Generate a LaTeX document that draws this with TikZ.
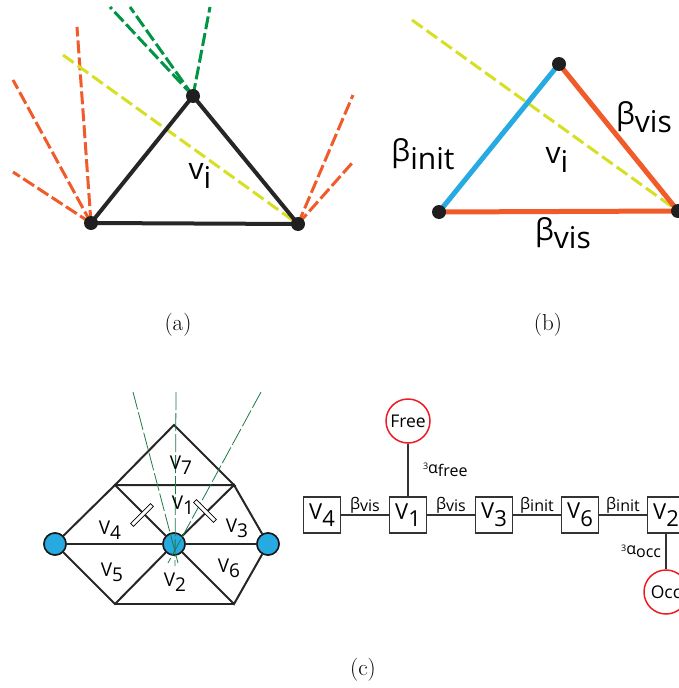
\documentclass[tikz,border=0pt]{standalone}
\usepackage{fontspec}
\newfontfamily\labelfont{Open Sans}
\usepackage{xcolor}
\definecolor{rayorange}{HTML}{F15A29}
\definecolor{raygreen}{HTML}{009444}
\definecolor{rayyellow}{HTML}{D7DF23}
\definecolor{edgeblue}{HTML}{27AAE1}
\definecolor{statered}{HTML}{ED1C24}
\definecolor{sightgreen}{HTML}{1E7A45}
\definecolor{boxgray}{HTML}{333333}
\usepackage{tikz}
\newcommand{\lsub}[3][0.25em]{#2\raisebox{-#1}{#3}}

\begin{document}
\begin{tikzpicture}[
		x=1pt, y=-1pt,
		vdot/.style={
			circle,
			fill=black!88,
			inner sep=0pt,
			minimum size=14pt
		},
		tri/.style={
			line width=4pt,
			draw=black!85,
			line join=round
		},
		bedge/.style={
			line width=5pt,
			line join=round
		},
		orangeray/.style={
			draw=rayorange,
			line width=3pt,
			dash pattern=on 13pt off 4pt
		},
		greenray/.style={
			draw=raygreen,
			line width=3pt,
			dash pattern=on 13pt off 4pt
		},
		yellowray/.style={
			draw=rayyellow,
			line width=3pt,
			dash pattern=on 13pt off 5pt
		},
		biglabel/.style={
			font=\labelfont\fontsize{30}{36}\selectfont,
			inner sep=0pt
		},
		caption/.style={
			font=\fontsize{23}{28}\selectfont,
			inner sep=0pt
		},
		mesh/.style={
			line width=2pt,
			draw=black!85
		},
		meshlabel/.style={
			font=\labelfont\fontsize{19}{23}\selectfont,
			inner sep=0pt
		},
		hub/.style={
			circle,
			draw=black!90,
			line width=1.5pt,
			fill=edgeblue,
			minimum size=22pt,
			inner sep=0pt
		},
		sight/.style={
			draw=sightgreen,
			line width=0.8pt,
			dash pattern=on 18pt off 3pt
		},
		occmark/.style={
			draw=black,
			line width=0.7pt,
			fill=white,
			minimum width=28pt,
			minimum height=4pt,
			inner sep=0pt
		},
		varbox/.style={
			draw=boxgray,
			line width=1.5pt,
			fill=white,
			minimum width=37pt,
			minimum height=36pt,
			inner sep=0pt,
			font=\labelfont\fontsize{22}{26}\selectfont
		},
		state/.style={
			circle,
			draw=statered,
			line width=1.5pt,
			fill=white,
			minimum size=44pt,
			inner sep=0pt,
			font=\labelfont\fontsize{17.5}{20}\selectfont
		},
		link/.style={
			draw=boxgray,
			line width=2pt
		},
		elabel/.style={
			font=\labelfont\fontsize{16}{19}\selectfont,
			inner sep=1pt
		}
	]
	\useasboundingbox (0,0) rectangle (679,688);
	\clip (0,0) rectangle (679,688);
	
	% (a) triangle with its sight rays
	\coordinate (aL) at (91,223);
	\coordinate (aT) at (193,96);
	\coordinate (aR) at (298,224);
	\coordinate (aY) at (63,55);
	\foreach \p in {(13,80),(77,27),(13,172)}
		\draw[orangeray] (aL) -- \p;
	\foreach \p in {(353,95),(353,162)}
		\draw[orangeray] (aR) -- \p;
	\foreach \p in {(110,7),(130,7),(210,7)}
		\draw[greenray] (aT) -- \p;
	\draw[yellowray] (aY) -- (aR);
	\draw[tri] (aL) -- (aT) -- (aR) -- cycle;
	\foreach \v in {aL,aT,aR}
		\node[vdot] at (\v) {};
	\node[biglabel] (avi) at (200,176) {\lsub[0.3em]{v}{i}};
	\node[caption] (capa) at (178,325) {(a)};
	
	% (b) edge weights
	\coordinate (bL) at (439,212);
	\coordinate (bT) at (559,64);
	\coordinate (bR) at (678,211);
	\coordinate (bY) at (412,20);
	\draw[yellowray] (bY) -- (bR);
	\draw[bedge, draw=edgeblue] (bL) -- (bT);
	\draw[bedge, draw=rayorange] (bT) -- (bR) -- (bL);
	\foreach \v in {bL,bT,bR}
		\node[vdot] at (\v) {};
	\node[biglabel] (binit) at (423,154) {\lsub{β}{init}};
	\node[biglabel] (bvi) at (557,160) {\lsub[0.3em]{v}{i}};
	\node[biglabel] (bvisr) at (644,117) {\lsub{β}{vis}};
	\node[biglabel] (bvisb) at (563,233) {\lsub{β}{vis}};
	\node[caption] (capb) at (548,325) {(b)};
	
	% (c) mesh around the centre vertex
	\coordinate (m7) at (174,425);
	\coordinate (mUL) at (115,485);
	\coordinate (mUR) at (234,485);
	\coordinate (mBL) at (115,604);
	\coordinate (mBR) at (234,604);
	\node[hub] (mL) at (55,544) {};
	\node[hub] (mC) at (174,544) {};
	\node[hub] (mR) at (268,544) {};
	\draw[mesh] (mUL) -- (m7) -- (mUR) -- cycle;
	\draw[mesh] (mL) -- (mUL) -- (mC) -- (mUR) -- (mR);
	\draw[mesh] (mL) -- (mBL) -- (mC) -- (mBR) -- (mR);
	\draw[mesh] (mBL) -- (mBR);
	\draw[mesh] (mL) -- (mC) -- (mR);
	\node[hub] at (mL) {};
	\node[hub] at (mC) {};
	\node[hub] at (mR) {};
	% sight lines through the centre vertex
	\coordinate (s1a) at (133,392);
	\coordinate (s1b) at (178,563);
	\coordinate (s2a) at (176,392);
	\coordinate (s2b) at (175,566);
	\coordinate (s3a) at (261,392);
	\coordinate (s3b) at (168,563);
	\foreach \i in {1,2,3}
		\draw[sight] (s\i a) -- (s\i b);
	\node[occmark, rotate=45] (markl) at (142,515) {};
	\node[occmark, rotate=-45] (markr) at (205,511) {};
	\node[meshlabel] (l7) at (181,465) {\lsub{V}{7}};
	\node[meshlabel] (l1) at (183,505) {\lsub{V}{1}};
	\node[meshlabel] (l4) at (110,530) {\lsub{V}{4}};
	\node[meshlabel] (l3) at (237,528) {\lsub{V}{3}};
	\node[meshlabel] (l5) at (112,572) {\lsub{V}{5}};
	\node[meshlabel] (l2) at (175,582) {\lsub{V}{2}};
	\node[meshlabel] (l6) at (229,568) {\lsub{V}{6}};
	
	% (c) chain of variables
	\node[varbox] (g4) at (322,515) {\lsub[0.35em]{V}{4}};
	\node[varbox] (g1) at (408,515) {\lsub[0.35em]{V}{1}};
	\node[varbox] (g3) at (494,515) {\lsub[0.35em]{V}{3}};
	\node[varbox] (g6) at (580,515) {\lsub[0.35em]{V}{6}};
	\node[varbox] (g2) at (666,515) {\lsub[0.35em]{V}{2}};
	\node[state] (free) at (408,421) {Free};
	\node[state] (occ) at (666,592) {Occ};
	
	\draw[link] (g4) -- node[elabel, above] {\lsub[0.15em]{β}{vis}} (g1);
	\draw[link] (g1) -- node[elabel, above] {\lsub[0.15em]{β}{vis}} (g3);
	\draw[link] (g3) -- node[elabel, above] {\lsub[0.15em]{β}{init}} (g6);
	\draw[link] (g6) -- node[elabel, above] {\lsub[0.15em]{β}{init}} (g2);
	\draw[link] (free) -- node[elabel, right=13pt] {\raisebox{0.2em}{\small 3}α\lsub[0.2em]{}{free}} (g1);
	\draw[link] (g2) -- node[elabel, left=3pt] {\raisebox{0.2em}{\small 3}α\lsub[0.2em]{}{occ}} (occ);
	
	\node[caption] (capc) at (363,670) {(c)};
	
\end{tikzpicture}
\end{document}
